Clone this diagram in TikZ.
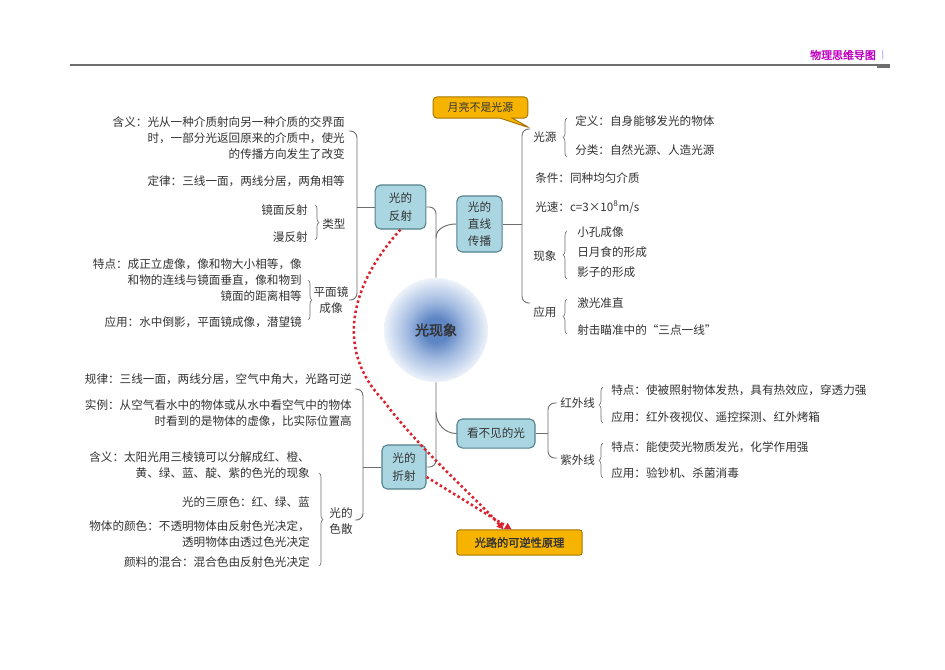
\documentclass[tikz,border=0pt]{standalone}
\usepackage{fontspec}
\setmainfont{Noto Sans CJK SC}[AutoFakeBold=2]
\usetikzlibrary{arrows.meta,decorations.pathreplacing,shapes.callouts}
\definecolor{ink}{HTML}{333333}
\definecolor{boxfill}{HTML}{AAD6E2}
\definecolor{boxline}{HTML}{54808C}
\definecolor{linkgray}{HTML}{6E6E6E}
\definecolor{tracered}{HTML}{D9232E}
\definecolor{gold}{HTML}{F6B400}
\definecolor{goldline}{HTML}{A87400}
\definecolor{hdrpink}{HTML}{C000C0}
\definecolor{glowA}{HTML}{5F86C4}
\definecolor{glowB}{HTML}{A3BBE1}
\definecolor{glowC}{HTML}{D8E3F3}
\definecolor{glowD}{HTML}{EEF3FA}
\pgfdeclareradialshading{glow}{\pgfpoint{0bp}{0bp}}{color(0bp)=(glowA); color(6bp)=(glowA); color(14bp)=(glowB); color(22bp)=(glowC); color(25bp)=(glowD); color(50bp)=(glowD)}
\tikzset{
  itm/.style={inner sep=0pt,text=ink,font=\fontsize{8.7}{12}\selectfont},
  topic/.style={draw=boxline,fill=boxfill,rounded corners=4pt,line width=0.8pt,inner sep=0pt,
    align=center,text=ink,font=\fontsize{8.7}{13}\selectfont},
  link/.style={draw=linkgray,line width=0.7pt,rounded corners=5pt},
  brc/.style={draw=linkgray,line width=0.5pt,decorate,decoration={brace,amplitude=3pt}},
  trace/.style={draw=tracered,line width=1.9pt,dotted,-{Triangle[length=5pt,width=5pt]}},
  goldbox/.style={fill=gold,draw=goldline,line width=0.7pt,inner sep=0pt,text=ink}
}
\begin{document}
\begin{tikzpicture}[x=0.75pt,y=-0.75pt]
\useasboundingbox (0,0) rectangle (945,669);
\fill[white] (0,0) rectangle (945,669);
% header
\node[text=hdrpink,font=\fontsize{8.2}{10}\selectfont\bfseries] (hdr) at (843,55) {物理思维导图};
\node[text=blue!60,inner sep=0pt,font=\fontsize{6}{7}\selectfont] (bar) at (883,55) {|};
\draw[linkgray,line width=0.9pt] (70,65) -- (890,65);
\draw[linkgray,line width=1.6pt] (877,67) -- (890,67);
% centre
\node[circle,shading=glow,minimum size=78pt,inner sep=0pt,text=ink,
  font=\fontsize{10.5}{12}\selectfont\bfseries] (core) at (436,330) {光现象};
% main topics
\node[topic,minimum width=38pt,minimum height=33pt] (refl) at (400.5,207) {光的\\反射};
\node[topic,minimum width=34pt,minimum height=42pt] (rect) at (479.5,224) {光的\\直线\\传播};
\node[topic,minimum width=58.5pt,minimum height=21.8pt] (invis) at (496,433.5) {看不见的光};
\node[topic,minimum width=33pt,minimum height=33pt] (refr) at (404,467) {光的\\折射};
\node[goldbox,rectangle callout,rounded corners=3pt,callout absolute pointer={(530,128)},
  callout pointer width=9pt,minimum width=71pt,minimum height=16pt,
  font=\fontsize{8.2}{10}\selectfont] (moon) at (480.5,107.5) {月亮不是光源};
\node[goldbox,rounded corners=2pt,minimum width=94pt,minimum height=19pt,
  font=\fontsize{8.4}{10}\selectfont\bfseries] (prin) at (519.5,542.5) {光路的可逆性原理};
% trunk
\draw[link] (refl.east) -| (core.north);
\draw[link] (core.north) ++(0,-40) coordinate (j1) to[out=90,in=180] (rect.west);
\draw[link] (core.south) |- (refr.east);
\draw[link] (core.south) ++(0,30) coordinate (j2) to[out=-90,in=180] (invis.west);
% straight propagation
\coordinate (sR) at (522,224);
\draw[link] (rect.east) -- (sR);
\draw[link] (530,129) -- (522,129) -- (522,303) -- (530,303);
\node[itm,anchor=west] (src) at (533,137) {光源};
\draw[brc] (567,157) -- (567,118);
\node[itm,anchor=west] (def) at (575,121) {定义：自身能够发光的物体};
\node[itm,anchor=west] (cls) at (575,150) {分类：自然光源、人造光源};
\node[itm,anchor=west] (cond) at (535,178) {条件：同种均匀介质};
\node[itm,anchor=west] (spd) at (535,207) {光速：c=3×10\textsuperscript{8}m/s};
\node[itm,anchor=west] (phen) at (533,256) {现象};
\draw[brc] (567,279) -- (567,231);
\foreach \t [count=\i] in {小孔成像,日月食的形成,影子的形成}
  \node[itm,anchor=west] (ph\i) at (577,{212+20*\i}) {\t};
\node[itm,anchor=west] (app) at (533,312) {应用};
\draw[brc] (567,334) -- (567,299);
\node[itm,anchor=west] (app1) at (577,303) {激光准直};
\node[itm,anchor=west] (app2) at (577,330) {射击瞄准中的“三点一线”};
% invisible light
\coordinate (sI) at (548,433.5);
\draw[link] (invis.east) -- (sI);
\draw[link] (557,403) -- (548,403) -- (548,458) -- (557,458);
\node[itm,anchor=west] (ir) at (560,403) {红外线};
\draw[brc] (603,423) -- (603,387);
\node[itm,anchor=west] (ir1) at (611,390) {特点：使被照射物体发热，具有热效应，穿透力强};
\node[itm,anchor=west] (ir2) at (611,417) {应用：红外夜视仪、遥控探测、红外烤箱};
\node[itm,anchor=west] (uv) at (560,460) {紫外线};
\draw[brc] (603,478) -- (603,443);
\node[itm,anchor=west] (uv1) at (611,447) {特点：能使荧光物质发光，化学作用强};
\node[itm,anchor=west] (uv2) at (611,473) {应用：验钞机、杀菌消毒};
% reflection
\coordinate (sL) at (357,207);
\draw[link] (refl.west) -- (sL);
\draw[link] (349,131) -- (357,131) -- (357,300) -- (349,300);
\node[itm,anchor=east,align=right] (mean1) at (345,138)
  {含义：光从一种介质射向另一种介质的交界面\\时，一部分光返回原来的介质中，使光\\的传播方向发生了改变};
\node[itm,anchor=east] (law1) at (345,181) {定律：三线一面，两线分居，两角相等};
\node[itm,anchor=east] (spec) at (308,210) {镜面反射};
\node[itm,anchor=east] (diff) at (308,237) {漫反射};
\draw[brc] (315,205) -- (315,240);
\node[itm,anchor=west] (kind) at (322,224) {类型};
\node[itm,anchor=east,align=right] (feat) at (302,280)
  {特点：成正立虚像，像和物大小相等，像\\和物的连线与镜面垂直，像和物到\\镜面的距离相等};
\draw[brc] (308,280) -- (308,320);
\node[itm,align=center] (plane) at (331,300) {平面镜\\成像};
\node[itm,anchor=east] (use1) at (302,322) {应用：水中倒影，平面镜成像，潜望镜};
% refraction
\coordinate (sF) at (363,467);
\draw[link] (refr.west) -- (sF);
\draw[link] (355,389) -- (363,389) -- (363,520) -- (355,520);
\node[itm,anchor=east] (law2) at (352,379) {规律：三线一面，两线分居，空气中角大，光路可逆};
\node[itm,anchor=east,align=right] (case2) at (352,413)
  {实例：从空气看水中的物体或从水中看空气中的物体\\时看到的是物体的虚像，比实际位置高};
\node[itm,anchor=east,align=right] (mean2) at (310,465)
  {含义：太阳光用三棱镜可以分解成红、橙、\\黄、绿、蓝、靛、紫的色光的现象};
\node[itm,anchor=east] (prim) at (310,502) {光的三原色：红、绿、蓝};
\node[itm,anchor=east,align=right] (objc) at (310,534)
  {物体的颜色：不透明物体由反射色光决定，\\透明物体由透过色光决定};
\node[itm,anchor=east] (pigm) at (310,562) {颜料的混合：混合色由反射色光决定};
\draw[brc] (319,473) -- (319,566);
\node[itm,align=center] (disp) at (341,521) {光的\\色散};
% reversibility traces
\draw[trace] (refl.south) .. controls (350,285) and (335,350) .. (383,400)
  .. controls (420,450) and (475,497) .. ([xshift=-12pt]prin.north);
\draw[trace] ([yshift=-7.5pt]refr.east) -- ([xshift=-6pt]prin.north);
\end{tikzpicture}
\end{document}
